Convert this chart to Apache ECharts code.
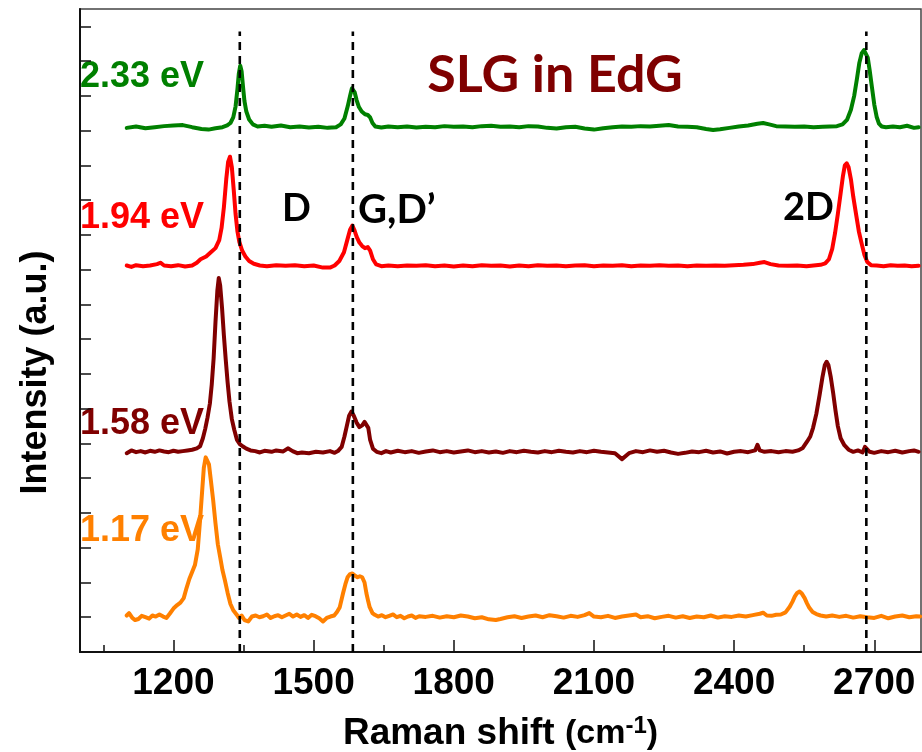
<!DOCTYPE html>
<html><head><meta charset="utf-8">
<script src="https://cdn.jsdelivr.net/npm/echarts@6/dist/echarts.min.js"></script>
<style>html,body{margin:0;padding:0;background:#fff}#c{width:922px;height:752px}</style>
</head><body><div id="c"></div>
<script>
// ---- data (Raman shift in cm^-1, intensity in offset arbitrary units) ----
const shift233 = [1100,1120,1140,1160,1180,1200,1220,1240,1260,1275,1290,1305,1315,1322,1328,1333,1337,1340,1343,1346,1349,1352,1356,1362,1370,1380,1395,1410,1430,1450,1470,1490,1510,1530,1548,1558,1566,1573,1578,1582,1585,1588,1592,1597,1603,1610,1616,1621,1626,1632,1645,1660,1680,1700,1720,1740,1760,1780,1800,1820,1840,1860,1880,1900,1920,1940,1960,1980,2000,2020,2040,2060,2080,2100,2120,2140,2160,2180,2200,2220,2240,2260,2280,2300,2320,2340,2355,2370,2390,2410,2430,2450,2462,2475,2490,2510,2530,2550,2570,2590,2605,2620,2632,2642,2650,2657,2663,2668,2673,2678,2682,2686,2690,2695,2700,2705,2710,2716,2725,2740,2755,2770,2785,2795];
const int233 = [15.08,15.12,15.07,15.10,15.13,15.15,15.16,15.10,15.05,15.03,15.07,15.10,15.15,15.22,15.38,15.70,16.20,16.65,16.87,16.70,16.25,15.85,15.55,15.32,15.18,15.12,15.14,15.11,15.15,15.10,15.12,15.09,15.11,15.08,15.10,15.18,15.35,15.70,16.00,16.22,16.25,16.10,15.88,15.68,15.55,15.47,15.45,15.38,15.22,15.12,15.09,15.12,15.10,15.12,15.09,15.11,15.10,15.13,15.11,15.12,15.10,15.13,15.14,15.11,15.12,15.10,15.13,15.12,15.08,15.06,15.10,15.11,15.06,15.03,15.07,15.10,15.12,15.11,15.13,15.12,15.14,15.16,15.12,15.11,15.10,15.05,15.02,15.04,15.08,15.12,15.15,15.20,15.22,15.18,15.13,15.12,15.11,15.12,15.10,15.11,15.12,15.13,15.18,15.32,15.60,16.00,16.50,16.95,17.22,17.32,17.28,17.10,16.75,16.25,15.75,15.40,15.20,15.12,15.10,15.12,15.10,15.14,15.08,15.10];

const shift194 = [1100,1110,1120,1135,1150,1165,1172,1180,1195,1210,1225,1240,1250,1258,1270,1280,1290,1298,1303,1308,1313,1317,1321,1325,1329,1333,1337,1341,1347,1354,1362,1372,1385,1400,1420,1440,1460,1480,1500,1520,1535,1545,1555,1565,1572,1578,1583,1587,1592,1598,1604,1610,1616,1621,1627,1634,1645,1660,1680,1700,1720,1740,1760,1780,1800,1820,1840,1860,1880,1900,1920,1940,1960,1980,2000,2020,2040,2060,2080,2100,2120,2140,2160,2180,2200,2220,2240,2260,2280,2300,2320,2340,2360,2380,2400,2420,2440,2455,2465,2478,2495,2515,2535,2555,2570,2585,2595,2603,2610,2616,2622,2628,2633,2637,2641,2645,2650,2655,2661,2667,2673,2679,2685,2693,2705,2720,2735,2750,2765,2780,2795];
const int194 = [11.12,11.08,11.13,11.10,11.12,11.16,11.20,11.12,11.10,11.13,11.09,11.12,11.20,11.30,11.38,11.50,11.62,11.85,12.20,12.80,13.60,14.10,14.25,13.95,13.30,12.60,12.10,11.80,11.55,11.38,11.25,11.17,11.12,11.10,11.13,11.11,11.13,11.10,11.12,11.06,11.06,11.12,11.25,11.50,11.85,12.15,12.27,12.15,11.95,11.78,11.68,11.62,11.65,11.55,11.30,11.15,11.10,11.12,11.10,11.12,11.11,11.13,11.10,11.12,11.09,11.12,11.10,11.13,11.11,11.12,11.09,11.12,11.10,11.13,11.11,11.12,11.10,11.12,11.13,11.10,11.12,11.11,11.13,11.10,11.12,11.11,11.13,11.11,11.12,11.10,11.12,11.11,11.12,11.11,11.13,11.14,11.16,11.20,11.22,11.16,11.12,11.11,11.12,11.10,11.12,11.14,11.18,11.30,11.60,12.05,12.60,13.20,13.70,14.00,14.06,13.95,13.60,13.10,12.60,12.10,11.75,11.42,11.22,11.13,11.12,11.10,11.13,11.11,11.12,11.10,11.11];

const shift158 = [1100,1110,1120,1130,1140,1150,1160,1170,1180,1190,1200,1210,1220,1230,1240,1250,1257,1263,1268,1273,1278,1282,1286,1290,1294,1297,1300,1304,1308,1312,1316,1320,1325,1330,1336,1342,1348,1356,1365,1375,1385,1395,1410,1420,1435,1445,1455,1465,1475,1490,1505,1520,1535,1545,1552,1560,1566,1571,1576,1581,1586,1592,1598,1604,1609,1613,1617,1621,1627,1635,1645,1655,1665,1680,1695,1710,1725,1740,1755,1770,1785,1800,1815,1830,1845,1860,1875,1890,1905,1920,1935,1950,1965,1980,1995,2010,2025,2040,2055,2070,2085,2100,2115,2130,2145,2160,2175,2190,2205,2220,2235,2250,2265,2280,2295,2310,2325,2340,2355,2370,2385,2400,2415,2430,2445,2450,2455,2465,2480,2495,2510,2525,2537,2547,2556,2563,2569,2576,2583,2589,2594,2598,2602,2607,2612,2617,2622,2628,2636,2645,2655,2665,2675,2680,2690,2700,2715,2730,2745,2760,2775,2785,2795];
const int158 = [5.72,5.80,5.75,5.78,5.74,5.79,5.76,5.80,5.77,5.75,5.79,5.76,5.78,5.80,5.82,5.86,5.92,6.15,6.42,6.75,7.15,7.70,8.45,9.50,10.40,10.76,10.55,9.90,9.10,8.40,7.75,7.20,6.70,6.40,6.10,5.98,5.92,5.85,5.80,5.78,5.74,5.79,5.76,5.80,5.77,5.86,5.78,5.72,5.74,5.72,5.76,5.74,5.78,5.73,5.78,5.90,6.20,6.50,6.80,6.92,6.80,6.60,6.47,6.52,6.62,6.65,6.45,6.10,5.85,5.76,5.72,5.78,5.74,5.79,5.75,5.78,5.73,5.77,5.80,5.75,5.78,5.74,5.77,5.80,5.75,5.78,5.74,5.77,5.73,5.78,5.75,5.79,5.76,5.74,5.78,5.75,5.79,5.76,5.74,5.78,5.75,5.79,5.76,5.74,5.72,5.55,5.72,5.78,5.75,5.80,5.76,5.79,5.74,5.70,5.73,5.77,5.75,5.79,5.74,5.77,5.71,5.76,5.78,5.75,5.80,5.96,5.80,5.76,5.78,5.75,5.78,5.76,5.80,5.87,6.05,6.20,6.45,6.85,7.40,7.90,8.25,8.35,8.25,7.90,7.45,6.95,6.50,6.15,5.95,5.82,5.76,5.80,5.74,5.90,5.76,5.73,5.78,5.75,5.79,5.74,5.78,5.80,5.76];

const shift117 = [1100,1105,1112,1118,1125,1132,1140,1148,1155,1162,1170,1178,1185,1192,1200,1208,1215,1222,1228,1234,1240,1246,1252,1257,1261,1265,1269,1272,1276,1280,1285,1290,1295,1300,1305,1310,1316,1322,1328,1335,1340,1346,1352,1360,1368,1376,1384,1392,1400,1408,1416,1424,1432,1440,1448,1456,1464,1472,1480,1488,1496,1504,1512,1520,1528,1536,1544,1550,1556,1563,1568,1573,1578,1583,1588,1594,1599,1604,1609,1613,1617,1620,1626,1631,1638,1646,1654,1662,1670,1678,1686,1694,1702,1710,1718,1726,1740,1755,1770,1785,1800,1815,1830,1845,1860,1875,1890,1900,1915,1930,1945,1960,1975,1990,2005,2020,2035,2050,2065,2080,2090,2100,2115,2130,2145,2160,2175,2190,2200,2215,2230,2245,2260,2275,2290,2305,2320,2335,2350,2365,2380,2395,2410,2425,2440,2455,2462,2470,2480,2490,2500,2510,2519,2525,2530,2535,2540,2545,2551,2556,2561,2568,2576,2585,2597,2610,2625,2640,2655,2670,2685,2700,2715,2730,2745,2760,2775,2790,2798];
const int117 = [1.05,1.12,0.98,0.92,0.95,1.04,1.00,0.96,1.05,1.02,1.08,1.02,0.98,1.10,1.25,1.35,1.42,1.55,1.84,2.10,2.30,2.50,2.95,3.80,4.55,5.30,5.60,5.62,5.40,4.95,4.37,3.70,3.10,2.73,2.35,2.07,1.70,1.38,1.20,1.08,0.98,1.05,0.92,0.88,1.02,1.05,1.00,1.03,1.08,0.98,1.03,1.06,1.00,1.05,1.10,1.02,1.08,1.01,1.06,0.98,1.07,1.03,0.97,0.88,0.98,1.02,1.05,1.15,1.29,1.69,1.95,2.16,2.24,2.26,2.20,2.15,2.18,2.15,2.00,1.69,1.45,1.29,1.12,1.07,1.02,1.06,1.00,1.04,1.08,1.00,1.04,0.97,1.02,1.05,0.98,1.03,1.01,1.04,0.99,1.03,1.00,1.05,1.02,0.97,1.00,0.94,0.92,0.95,1.00,1.03,0.98,1.02,1.05,1.00,1.06,1.03,0.99,1.04,1.01,1.06,1.12,1.02,1.00,1.04,0.98,1.02,1.05,1.08,1.00,1.03,0.97,1.01,1.04,0.99,1.03,0.98,1.02,1.00,1.05,0.99,1.03,1.01,1.05,1.02,1.06,1.10,1.13,1.05,1.04,1.07,1.08,1.14,1.30,1.45,1.60,1.70,1.74,1.68,1.55,1.40,1.27,1.15,1.09,1.05,1.02,1.05,1.01,1.04,0.99,1.03,1.00,0.98,1.04,0.97,1.02,1.05,1.00,1.03,1.02];

const energyLabels = ['2.33 eV', '1.94 eV', '1.58 eV', '1.17 eV'];
const peakNames = ['D', 'G,D\u2019', '2D'];
const peakMarkers = [1342, 1584, 2683];
const markerTop = 17.85;
const xMajorTicks = [1200, 1500, 1800, 2100, 2400, 2700];
const xMinorTicks = [1050, 1350, 1650, 1950, 2250, 2550];
const yTicks = [1,2,3,4,5,6,7,8,9,10,11,12,13,14,15,16,17,18];

// ---- styles ----
const colors = ['#008000', '#ff0000', '#800000', '#ff8000'];
const FONT = '"Liberation Sans", Arial, sans-serif';
const FONT2 = 'Lato, "Open Sans", sans-serif';

const zip = (xs, ys) => xs.map((x, i) => [x, ys[i]]);
const spectra = [[shift233, int233], [shift194, int194], [shift158, int158], [shift117, int117]];

const series = spectra.map((s, i) => ({
  name: energyLabels[i], type: 'line', xAxisIndex: 0, yAxisIndex: 0,
  data: zip(s[0], s[1]), showSymbol: false, symbol: 'none', smooth: false,
  lineStyle: { color: colors[i], width: 4, join: 'round', cap: 'round' }, z: 3, silent: true
}));
peakMarkers.forEach(x => series.push({
  type: 'line', xAxisIndex: 0, yAxisIndex: 0, data: [[x, 0], [x, markerTop]],
  showSymbol: false, symbol: 'none',
  lineStyle: { color: '#000', width: 2.6, type: [8, 6] }, z: 4, silent: true
}));

const chart = echarts.init(document.getElementById('c'), null, { renderer: 'canvas' });
chart.setOption({
  animation: false,
  backgroundColor: '#fff',
  grid: { left: 80, right: 1, top: 9, bottom: 100, show: true, borderColor: '#444', borderWidth: 1.5, containLabel: false, outerBoundsMode: 'none' },
  xAxis: [{
    type: 'value', min: 1000, max: 2800, position: 'bottom',
    axisLine: { show: true, onZero: false, lineStyle: { color: '#111', width: 2 } },
    axisTick: { show: true, inside: true, length: 12, customValues: xMajorTicks, lineStyle: { color: '#111', width: 1.5 } },
    axisLabel: { show: true, customValues: xMajorTicks, margin: 13, formatter: v => String(v), fontFamily: FONT, fontWeight: 'bold', fontSize: 37, color: '#000' },
    splitLine: { show: false },
    name: 'Raman shift {s|(cm}{sup|-1}{s|)}', nameLocation: 'middle', nameGap: 62,
    nameTextStyle: {
      fontFamily: FONT, fontWeight: 'bold', fontSize: 37, color: '#000', lineHeight: 40,
      rich: {
        s: { fontFamily: FONT, fontWeight: 'bold', fontSize: 34, color: '#000', lineHeight: 40 },
        sup: { fontFamily: FONT, fontWeight: 'bold', fontSize: 24, color: '#000', verticalAlign: 'top', lineHeight: 24, padding: [0, 0, 16, 0] }
      }
    }
  }, {
    type: 'value', min: 1000, max: 2800, position: 'bottom',
    axisLine: { show: false },
    axisTick: { show: true, inside: true, length: 7, customValues: xMinorTicks, lineStyle: { color: '#111', width: 1.5 } },
    axisLabel: { show: false }, splitLine: { show: false }
  }],
  yAxis: [{
    type: 'value', min: 0, max: 18.5,
    axisLine: { show: true, onZero: false, lineStyle: { color: '#111', width: 2 } },
    axisTick: { show: true, inside: true, length: 11, customValues: yTicks, lineStyle: { color: '#111', width: 1.5 } },
    axisLabel: { show: false }, splitLine: { show: false },
    name: 'Intensity (a.u.)', nameLocation: 'middle', nameGap: 26,
    nameTextStyle: { fontFamily: FONT, fontWeight: 'bold', fontSize: 36, color: '#000', padding: [0, 84, 0, 0] }
  }],
  series: series,
  graphic: [
    { type: 'text', x: 80, y: 77, style: { text: energyLabels[0], fill: colors[0], font: 'bold 36px ' + FONT, verticalAlign: 'middle' } },
    { type: 'text', x: 80, y: 218, style: { text: energyLabels[1], fill: colors[1], font: 'bold 36px ' + FONT, verticalAlign: 'middle' } },
    { type: 'text', x: 80, y: 424, style: { text: energyLabels[2], fill: colors[2], font: 'bold 36px ' + FONT, verticalAlign: 'middle' } },
    { type: 'text', x: 80, y: 531, style: { text: energyLabels[3], fill: colors[3], font: 'bold 36px ' + FONT, verticalAlign: 'middle' } },
    { type: 'text', x: 555, y: 75, style: { text: 'SLG in EdG', fill: '#7f0000', font: 'bold 52px ' + FONT2, align: 'center', verticalAlign: 'middle' } },
    { type: 'text', x: 282, y: 209, style: { text: peakNames[0], fill: '#000', font: 'bold 38px ' + FONT2, verticalAlign: 'middle' } },
    { type: 'text', x: 358, y: 210, style: { text: peakNames[1], fill: '#000', font: 'bold 40px ' + FONT2, verticalAlign: 'middle' } },
    { type: 'text', x: 783, y: 208, style: { text: peakNames[2], fill: '#000', font: 'bold 38px ' + FONT2, verticalAlign: 'middle' } }
  ]
});
</script></body></html>
